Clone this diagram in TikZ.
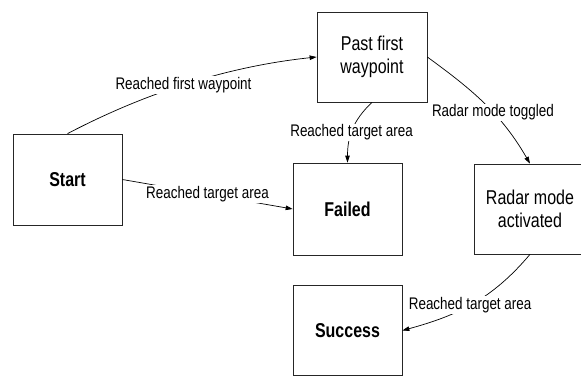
\documentclass[tikz,border=0pt]{standalone}
\usepackage{fontspec}
\setmainfont{Liberation Sans}[FakeStretch=0.8]
\usetikzlibrary{arrows.meta}
\begin{document}
\begin{tikzpicture}[x=1pt,y=-1pt,
  state/.style={draw=black!85, line width=0.7pt, rectangle, minimum width=109pt,
    minimum height=91pt, inner sep=0pt, align=center,
    font=\fontsize{20}{22.5}\selectfont},
  bstate/.style={state, font=\fontsize{20}{22.5}\selectfont\bfseries},
  edge/.style={draw=black, line width=0.7pt, -{Triangle[length=7pt,width=4.5pt]}},
  lbl/.style={fill=white, inner sep=1pt, font=\fontsize{16.8}{18}\selectfont}]
\useasboundingbox (0,0) rectangle (581,375);
\clip (0,0) rectangle (581,375);
\fill[white] (0,0) rectangle (581,375);

\node[bstate] (start) at (67.5,179.5) {Start};
\node[state, minimum width=110pt, minimum height=90pt] (past) at (372,57) {Past first\\waypoint};
\node[bstate, minimum height=92pt] (failed) at (347.5,209) {Failed};
\node[state, minimum width=112pt, minimum height=90pt] (radar) at (530,209) {Radar mode\\activated};
\node[bstate, minimum height=90pt] (success) at (347.5,330.5) {Success};

\draw[edge] (start.north) .. controls +(82,-43) and +(-85,9) .. (past.west)
  node[lbl, pos=0.47] (l1) {Reached first waypoint};
\draw[edge] (start.east) -- (failed.west)
  node[lbl, pos=0.5] (l2) {Reached target area};
\draw[edge] (past.south) .. controls +(-19,18) and +(0,-26) .. (failed.north)
  node[lbl, pos=0.55] (l3) {Reached target area};
\draw[edge] (past.east) .. controls +(46,33.5) and +(-28.5,-49.4) .. (radar.north)
  node[lbl, pos=0.58] (l4) {Radar mode toggled};
\draw[edge] (radar.south) .. controls +(-38,45) and +(55,-15) .. (success.east)
  node[lbl, pos=0.52] (l5) {Reached target area};
\end{tikzpicture}
\end{document}
